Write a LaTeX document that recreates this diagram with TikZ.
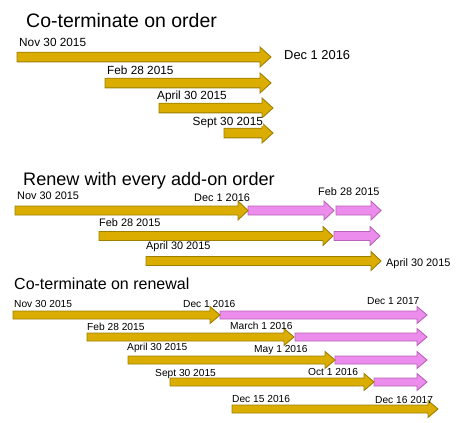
\documentclass[tikz,border=0pt]{standalone}
\usepackage{fontspec}
\setmainfont{Liberation Sans}
\definecolor{goldfill}{HTML}{DAAD00}
\definecolor{goldline}{HTML}{9E8000}
\definecolor{pinkfill}{HTML}{EC8CEC}
\definecolor{pinkline}{HTML}{B864B8}
% #1 style, #2 x start, #3 x tip, #4 y centre, #5 half shaft, #6 half head, #7 head length
\newcommand\blockarrow[7]{%
  \draw[#1] (#2,{#4-#5}) -- ({#3-#7},{#4-#5}) -- ({#3-#7},{#4-#6}) -- (#3,#4)
    -- ({#3-#7},{#4+#6}) -- ({#3-#7},{#4+#5}) -- (#2,{#4+#5}) -- cycle;}
\begin{document}
\begin{tikzpicture}[x=1pt,y=-1pt,
  gold/.style={fill=goldfill,draw=goldline,line width=0.9pt,line join=miter},
  pink/.style={fill=pinkfill,draw=pinkline,line width=0.9pt,line join=miter},
  lbl/.style={anchor=west,inner sep=0pt,text height=0.72em,text depth=0pt,
    font=\fontsize{#1pt}{#1pt}\selectfont}]
\useasboundingbox (0,0) rectangle (459,423);

% ---------------- Section 1 ----------------
\blockarrow{gold}{17}{271}{57}{4.8}{10}{11}
\blockarrow{gold}{105}{271}{83}{4.8}{10}{11}
\blockarrow{gold}{159}{273}{108}{4.8}{10}{11}
\blockarrow{gold}{224}{273}{133}{4.8}{10}{11}

\node[lbl=19.5] (t1) at (26,24) {Co-terminate on order};
\node[lbl=11.8] (a1s) at (19,43) {Nov 30 2015};
\node[lbl=12.9] (a1e) at (284,56) {Dec 1 2016};
\node[lbl=11.8] (a2s) at (107,71) {Feb 28 2015};
\node[lbl=11.8] (a3s) at (157,96) {April 30 2015};
\node[lbl=11.8,fill=white,inner sep=0.5pt] (a4s) at (192,122) {Sept 30 2015};

% ---------------- Section 2 ----------------
\blockarrow{pink}{248}{334}{210.5}{4.5}{9.5}{10}
\blockarrow{pink}{336}{381}{210.5}{4.5}{9.5}{10}
\blockarrow{gold}{15}{248}{210.5}{4.5}{9.5}{10}
\blockarrow{pink}{334}{380}{236}{4.5}{9.5}{10}
\blockarrow{gold}{99}{333}{236}{4.5}{9.5}{10}
\blockarrow{gold}{146}{381}{261}{4.5}{9.5}{10}

\node[lbl=18.1] (t2) at (23,182) {Renew with every add-on order};
\node[lbl=10.9] (b1s) at (17,196) {Nov 30 2015};
\node[lbl=10.9] (b1e) at (194,198) {Dec 1 2016};
\node[lbl=10.9] (b1r) at (318,192) {Feb 28 2015};
\node[lbl=10.9] (b2s) at (99,223) {Feb 28 2015};
\node[lbl=10.9] (b3s) at (146,246) {April 30 2015};
\node[lbl=10.9] (b3e) at (386,263) {April 30 2015};

% ---------------- Section 3 ----------------
\blockarrow{pink}{220}{427}{315}{4}{8.5}{10}
\blockarrow{gold}{13}{220}{315}{4}{8.5}{10}
\blockarrow{pink}{295}{427}{337}{4}{8.5}{10}
\blockarrow{gold}{87}{294}{337}{4}{8.5}{10}
\blockarrow{pink}{335}{427}{360}{4}{8.5}{10}
\blockarrow{gold}{128}{335}{360}{4}{8.5}{10}
\blockarrow{pink}{374}{427}{382}{4}{8.5}{10}
\blockarrow{gold}{170}{374}{382}{4}{8.5}{10}
\blockarrow{gold}{232}{438}{409}{4}{8.5}{10}

\node[lbl=16] (t3) at (14,286) {Co-terminate on renewal};
\node[lbl=10.2] (c1s) at (14,304) {Nov 30 2015};
\node[lbl=10.2] (c1m) at (183,304) {Dec 1 2016};
\node[lbl=10.2] (c1e) at (367,301) {Dec 1 2017};
\node[lbl=10.2] (c2s) at (87,327) {Feb 28 2015};
\node[lbl=10.2] (c2m) at (230,326) {March 1 2016};
\node[lbl=10.2] (c3s) at (127,347) {April 30 2015};
\node[lbl=10.2] (c3m) at (254,349) {May 1 2016};
\node[lbl=10.2] (c4s) at (155,373) {Sept 30 2015};
\node[lbl=10.2] (c4m) at (308,372) {Oct 1 2016};
\node[lbl=10.2] (c5s) at (232,399) {Dec 15 2016};
\node[lbl=10.2] (c5e) at (375,400) {Dec 16 2017};
\end{tikzpicture}
\end{document}
